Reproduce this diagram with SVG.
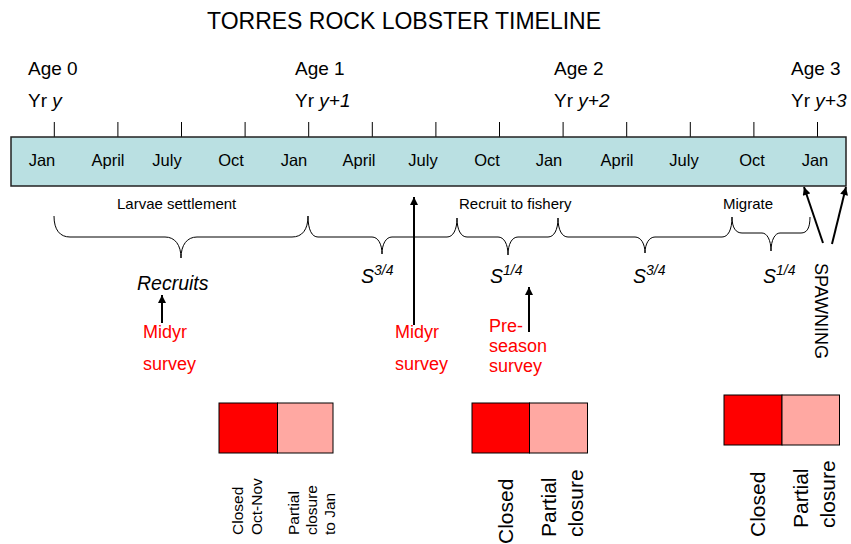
<svg xmlns="http://www.w3.org/2000/svg" width="851" height="544" viewBox="0 0 851 544">
<style>
text{font-family:"Liberation Sans",Arial,sans-serif;fill:#000}
.title{font-size:23px}
.age{font-size:19px}
.mon{font-size:16.5px;text-anchor:middle}
.lbl{font-size:15px}
.it{font-style:italic}
.s{font-size:19.5px;font-style:italic}
.sup{font-size:14px}
.red{fill:#FF0000;font-size:18px}
.b1{font-size:15.5px}
.b2{font-size:21px}
.tick{stroke:#000;stroke-width:1}
.brace{fill:none;stroke:#000;stroke-width:1}
.arr{stroke:#000;stroke-width:2;fill:none}
.closed{fill:#FF0000;stroke:#000;stroke-width:1}
.partial{fill:#FFA8A2;stroke:#000;stroke-width:1}
</style>
<defs>
<marker id="ah" viewBox="0 0 10 10" refX="10" refY="5" markerWidth="10" markerHeight="8" orient="auto" markerUnits="userSpaceOnUse">
<path d="M0,0 L10,5 L0,10 z" fill="#000"/>
</marker>
</defs>
<rect width="851" height="544" fill="#fff"/>
<text class="title" x="207" y="29">TORRES ROCK LOBSTER TIMELINE</text>

<g id="ages">
<text class="age" x="28" y="75">Age 0</text>
<text class="age" x="28" y="107">Yr <tspan class="it">y</tspan></text>
<text class="age" x="295" y="75">Age 1</text>
<text class="age" x="295" y="107">Yr <tspan class="it">y+1</tspan></text>
<text class="age" x="554" y="75">Age 2</text>
<text class="age" x="554" y="107">Yr <tspan class="it">y+2</tspan></text>
<text class="age" x="791" y="75">Age 3</text>
<text class="age" x="791" y="107">Yr <tspan class="it">y+3</tspan></text>
</g>

<g id="timeline">
<path class="tick" d="M54.3,122V137M117.9,122V137M181.5,122V137M245.1,122V137M308.7,122V137M372.3,122V137M435.9,122V137M499.5,122V137M563.1,122V137M626.7,122V137M690.3,122V137M753.9,122V137M817.5,122V137"/>
<rect x="11" y="137" width="835" height="49" fill="#BAE0E2" stroke="#222" stroke-width="1.5"/>
<text class="mon" x="42" y="166">Jan</text>
<text class="mon" x="108" y="166">April</text>
<text class="mon" x="167" y="166">July</text>
<text class="mon" x="231" y="166">Oct</text>
<text class="mon" x="294" y="166">Jan</text>
<text class="mon" x="359" y="166">April</text>
<text class="mon" x="423" y="166">July</text>
<text class="mon" x="487" y="166">Oct</text>
<text class="mon" x="549" y="166">Jan</text>
<text class="mon" x="617" y="166">April</text>
<text class="mon" x="684" y="166">July</text>
<text class="mon" x="752" y="166">Oct</text>
<text class="mon" x="815" y="166">Jan</text>
</g>

<g id="braces">
<path class="brace" d="M54,216 C54,230 60,237 70,237 L165,237 C175,237 181,245 181,258 C181,245 187,237 197,237 L292,237 C302,237 308,230 308,216"/>
<path class="brace" d="M308,216 C308,230 312,237 318,237 L372,237 C378,237 382,244 382,254 C382,244 386,237 392,237 L447,237 C453,237 457,230 457,218"/>
<path class="brace" d="M457,218 C457,230 461,237 467,237 L498,237 C504,237 508,244 508,255 C508,244 512,237 518,237 L548,237 C554,237 558,230 558,218"/>
<path class="brace" d="M558,218 C558,230 562,237 568,237 L635,237 C641,237 645,244 645,253 C645,244 649,237 655,237 L722,237 C728,237 732,230 732,217"/>
<path class="brace" d="M732,217 C732,228 736,233 742,233 L762,233 C767,233 771,240 771,251 C771,240 775,233 780,233 L801,233 C807,233 810,228 810,217"/>
<text class="lbl" x="117" y="209">Larvae settlement</text>
<text class="lbl" x="459" y="209">Recruit to fishery</text>
<text class="lbl" x="723" y="209">Migrate</text>
</g>

<g id="survival">
<text class="s" x="137" y="290">Recruits</text>
<text class="s" x="361" y="283">S<tspan class="sup" dy="-8">3/4</tspan></text>
<text class="s" x="490" y="283">S<tspan class="sup" dy="-8">1/4</tspan></text>
<text class="s" x="633" y="283">S<tspan class="sup" dy="-8">3/4</tspan></text>
<text class="s" x="763" y="283">S<tspan class="sup" dy="-8">1/4</tspan></text>
</g>

<g id="surveys">
<text class="red" x="143" y="338">Midyr</text>
<text class="red" x="143" y="370">survey</text>
<text class="red" x="395" y="338">Midyr</text>
<text class="red" x="395" y="370">survey</text>
<text class="red" x="489" y="332">Pre-</text>
<text class="red" x="489" y="352">season</text>
<text class="red" x="489" y="372">survey</text>
<text x="815" y="263" font-size="18" transform="rotate(90 815 263)">SPAWNING</text>
</g>

<g id="connectors">
<line class="arr" x1="162" y1="323" x2="162" y2="295" marker-end="url(#ah)"/>
<line class="arr" x1="414" y1="325" x2="414" y2="197" marker-end="url(#ah)"/>
<line class="arr" x1="529" y1="332" x2="529" y2="287" marker-end="url(#ah)"/>
<line class="arr" x1="823" y1="243" x2="804" y2="187" marker-end="url(#ah)" stroke-width="2.5"/>
<line class="arr" x1="832" y1="244" x2="846" y2="187" marker-end="url(#ah)" stroke-width="2.5"/>
</g>

<g id="closure1">
<rect class="closed" x="219" y="403" width="58.5" height="50"/>
<rect class="partial" x="277.5" y="403" width="55.5" height="50"/>
<text class="b1" transform="rotate(-90 243 535)" x="243" y="535">Closed</text>
<text class="b1" transform="rotate(-90 262 535)" x="262" y="535">Oct-Nov</text>
<text class="b1" transform="rotate(-90 299 535)" x="299" y="535">Partial</text>
<text class="b1" transform="rotate(-90 317 535)" x="317" y="535">closure</text>
<text class="b1" transform="rotate(-90 335 535)" x="335" y="535">to Jan</text>
</g>

<g id="closure2">
<rect class="closed" x="472" y="403" width="57.5" height="50"/>
<rect class="partial" x="529.5" y="403" width="58" height="50"/>
<text class="b2" transform="rotate(-90 513 544)" x="513" y="544">Closed</text>
<text class="b2" transform="rotate(-90 556 537)" x="556" y="537">Partial</text>
<text class="b2" transform="rotate(-90 583 537)" x="583" y="537">closure</text>
</g>

<g id="closure3">
<rect class="closed" x="724" y="395" width="58" height="50"/>
<rect class="partial" x="782" y="395" width="57.5" height="50"/>
<text class="b2" transform="rotate(-90 765 537)" x="765" y="537">Closed</text>
<text class="b2" transform="rotate(-90 808 528)" x="808" y="528">Partial</text>
<text class="b2" transform="rotate(-90 835 528)" x="835" y="528">closure</text>
</g>
</svg>
